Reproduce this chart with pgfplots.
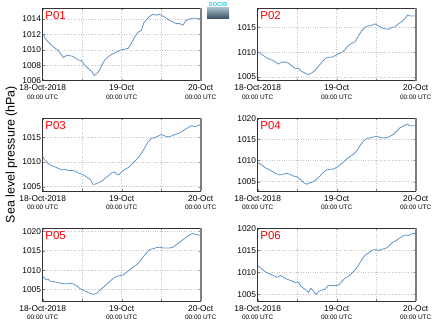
\documentclass[border=0pt]{standalone}
\usepackage{fontspec}
\setmainfont{Liberation Sans}
\usepackage{pgfplots}
\pgfplotsset{compat=1.18}
\definecolor{lineblue}{RGB}{100,150,200}
\newcommand\xl[1]{#1\\[-0.5pt]{\fontsize{6.5}{7}\selectfont 00:00 UTC}}
\newcommand\plab[1]{\node[anchor=north west, inner sep=0pt, text=red, font=\fontsize{11.5}{12}\selectfont] at (rel axis cs:0,1) [xshift=2.5bp, yshift=-3.3bp] {#1};}
\pgfplotsset{
 panel/.style={
  scale only axis, width=158bp, height=72.5bp, xmin=0, xmax=48,
  anchor=south west,
  xtick={0,12,24,36,48},
  xticklabels={{\xl{18-Oct-2018}},{},{\xl{19-Oct}},{},{\xl{20-Oct}}},
  grid=major, grid style={dotted, gray!45, line width=0.5pt},
  tick align=inside, major tick length=2bp, tick style={gray, line width=0.4pt},
  axis line style={black!80, line width=0.5pt},
  ticklabel style={font=\fontsize{8.4}{9}\selectfont},
  xticklabel style={align=center, inner sep=1.5pt, yshift=-2.5bp},
  yticklabel style={inner sep=1.5pt},
  /pgf/number format/assume math mode=true,
  /pgf/number format/1000 sep={},
  after end axis/.code={\draw[gray, line width=1.6bp] (rel axis cs:1,0) -- (rel axis cs:1,1);},
 },
 series/.style={lineblue, line width=0.8bp, no marks},
}
\begin{document}
\begin{tikzpicture}
\useasboundingbox (0,0) rectangle (435bp,327bp);
% P01
\begin{axis}[panel, at={(42.7bp,246.3bp)}, ymin=1006, ymax=1015.4, ytick={1006,1008,1010,1012,1014}]
\addplot[series] coordinates {
(0,1012.17) (0.7,1011.5) (1.7,1011.0) (3.2,1010.4) (4.75,1009.9) (6.3,1009.0) (7.3,1009.3) (8.8,1009.2) (9.8,1009.0) (10.8,1008.7) (11.8,1008.6) (12.8,1008.0) (13.8,1007.6) (14.9,1007.2) (15.6,1006.7) (16.4,1006.9) (17.2,1007.3) (17.9,1008.0) (18.9,1008.7) (19.9,1009.1) (20.9,1009.4) (21.9,1009.6) (22.9,1009.8) (23.9,1010.0) (25.0,1010.1) (26.0,1010.2) (27.0,1010.9) (28.0,1011.7) (29.0,1012.3) (30.0,1012.5) (30.7,1013.5) (31.5,1013.9) (32.5,1014.35) (33.5,1014.6) (34.6,1014.5) (35.6,1014.6) (36.6,1014.35) (37.6,1014.1) (38.6,1013.8) (39.6,1013.6) (40.6,1013.4) (41.6,1013.4) (42.6,1013.2) (43.5,1013.8) (44.7,1014.0) (45.7,1014.1) (46.7,1014.1) (47.7,1014.0) (48,1013.95)
};
\plab{P01}
\end{axis}
% P02
\begin{axis}[panel, at={(257.7bp,246.3bp)}, ymin=1004.26, ymax=1018.86, ytick={1005,1010,1015}]
\addplot[series] coordinates {
(0,1010.13) (1.2,1009.6) (2.2,1009.1) (3.2,1008.7) (4.8,1008.3) (6.3,1007.6) (7.3,1008.0) (8.3,1008.0) (9.3,1007.8) (10.3,1007.3) (11.3,1006.8) (12.4,1006.7) (13.4,1006.1) (14.4,1005.8) (15.4,1005.5) (16.4,1005.8) (17.4,1006.3) (18.4,1007.1) (19.4,1007.9) (20.5,1008.7) (21.5,1009.0) (22.5,1009.0) (23.5,1009.3) (24.5,1009.7) (25.5,1009.9) (26.5,1010.5) (27.5,1011.3) (28.6,1011.8) (29.6,1012.1) (30.6,1013.3) (31.6,1014.3) (32.6,1015.0) (33.6,1015.3) (34.6,1015.4) (35.6,1015.7) (36.7,1015.3) (37.7,1014.9) (38.7,1014.7) (39.7,1014.6) (40.7,1015.0) (41.7,1015.1) (42.7,1015.7) (43.7,1016.1) (44.8,1016.8) (45.5,1017.5) (46.3,1017.3) (48,1017.3)
};
\plab{P02}
\end{axis}
% P03
\begin{axis}[panel, at={(42.7bp,136bp)}, ymin=1004.13, ymax=1018.85, ytick={1005,1010,1015}]
\addplot[series] coordinates {
(0,1011.1) (0.7,1010.4) (1.7,1009.7) (2.7,1009.3) (4.2,1008.9) (5.8,1008.4) (6.8,1008.5) (7.8,1008.3) (8.8,1008.3) (9.8,1008.2) (10.8,1007.8) (11.8,1007.6) (12.8,1007.2) (13.8,1006.8) (14.6,1006.35) (15.2,1005.5) (15.9,1005.5) (16.9,1005.8) (17.9,1006.1) (18.9,1006.7) (19.9,1007.2) (20.9,1007.8) (21.8,1008.0) (22.4,1007.6) (23.1,1007.4) (23.9,1008.0) (25.0,1008.5) (26.0,1008.9) (27.0,1009.5) (28.0,1010.2) (29.0,1010.9) (30.0,1011.8) (31.0,1012.9) (32.0,1014.1) (33.0,1014.8) (34.1,1015.0) (35.1,1015.3) (36.1,1015.6) (37.1,1015.3) (38.1,1015.1) (39.1,1015.3) (40.1,1015.6) (41.1,1015.8) (42.1,1016.1) (43.1,1016.6) (44.2,1017.0) (45.2,1017.4) (46.2,1017.2) (47.2,1017.4) (48,1017.6)
};
\plab{P03}
\end{axis}
% P04
\begin{axis}[panel, at={(257.7bp,136bp)}, ymin=1002.8, ymax=1020, ytick={1005,1010,1015,1020}]
\addplot[series] coordinates {
(0,1009.6) (1.2,1009.0) (2.2,1008.35) (3.7,1007.8) (5.3,1007.0) (6.8,1006.6) (7.8,1006.8) (8.8,1007.0) (9.8,1006.75) (10.8,1006.35) (11.8,1006.2) (12.9,1005.6) (13.9,1004.8) (14.9,1004.4) (15.9,1004.75) (16.9,1005.0) (17.9,1005.6) (18.9,1006.35) (19.9,1007.15) (20.9,1007.8) (22.0,1007.95) (23.0,1008.0) (24.0,1008.4) (25.0,1009.0) (26.0,1009.6) (27.0,1010.4) (28.1,1011.0) (29.1,1011.5) (30.1,1012.3) (31.1,1013.6) (32.1,1014.6) (33.1,1015.2) (34.1,1015.4) (35.1,1015.6) (36.2,1015.8) (37.2,1015.5) (38.2,1015.4) (39.2,1015.4) (40.2,1015.8) (41.2,1016.2) (42.2,1017.0) (43.2,1017.8) (44.3,1018.2) (45.3,1018.7) (46.1,1018.3) (48,1018.3)
};
\plab{P04}
\end{axis}
% P05
\begin{axis}[panel, at={(42.7bp,26bp)}, ymin=1002.1, ymax=1020.7, ytick={1005,1010,1015,1020}]
\addplot[series] coordinates {
(0,1008.4) (0.7,1007.8) (1.2,1007.5) (1.7,1007.7) (2.2,1007.2) (3.2,1007.1) (4.2,1006.9) (5.8,1006.6) (7.3,1006.5) (8.3,1006.6) (9.3,1006.5) (10.3,1006.0) (11.3,1005.3) (12.3,1004.9) (13.3,1004.5) (14.3,1004.05) (15.4,1003.8) (16.4,1004.05) (17.4,1004.9) (18.4,1005.6) (19.4,1006.4) (20.4,1007.1) (21.4,1007.9) (22.4,1008.4) (23.4,1008.6) (24.5,1008.8) (25.5,1009.5) (26.5,1010.1) (27.5,1010.8) (28.5,1011.4) (29.5,1012.2) (30.5,1013.4) (31.5,1014.4) (32.5,1015.3) (33.5,1015.5) (34.6,1015.8) (35.6,1015.9) (36.6,1015.7) (37.6,1015.7) (38.6,1015.7) (39.6,1015.9) (40.6,1016.55) (41.6,1017.2) (42.6,1017.8) (43.7,1018.5) (44.7,1019.1) (45.5,1019.4) (46.7,1019.1) (48,1019.0)
};
\plab{P05}
\end{axis}
% P06
\begin{axis}[panel, at={(257.7bp,26bp)}, ymin=1003.5, ymax=1020, ytick={1005,1010,1015,1020}]
\addplot[series] coordinates {
(0,1011.6) (1.2,1010.8) (2.2,1010.2) (3.2,1009.8) (4.8,1009.3) (5.8,1008.9) (6.3,1009.05) (7.0,1009.3) (7.8,1008.9) (8.8,1008.5) (10.3,1008.1) (11.3,1007.7) (12.4,1007.8) (13.1,1006.9) (13.9,1006.4) (14.7,1006.0) (15.4,1005.5) (16.1,1006.4) (16.9,1005.8) (17.7,1005.0) (18.4,1005.6) (19.4,1006.0) (20.5,1006.2) (21.5,1007.1) (22.5,1007.0) (23.5,1007.0) (24.5,1007.1) (25.5,1007.9) (26.5,1008.7) (27.5,1009.05) (28.6,1009.8) (29.6,1010.6) (30.6,1011.6) (31.6,1012.9) (32.6,1013.9) (33.6,1014.4) (34.6,1014.95) (35.6,1015.2) (36.7,1015.0) (37.7,1015.3) (38.7,1015.4) (39.7,1015.9) (40.7,1016.7) (41.7,1017.1) (42.7,1017.6) (43.7,1018.1) (44.8,1018.5) (45.8,1018.4) (46.8,1018.8) (48,1018.9)
};
\plab{P06}
\end{axis}
% y label
\node[rotate=90, anchor=base, font=\fontsize{12.5}{13}\selectfont] at (14.5bp,172.5bp) {Sea level pressure (hPa)};
% logo
\shade[top color={rgb,255:red,160;green,185;blue,200}, bottom color={rgb,255:red,55;green,75;blue,90}] (207bp,308bp) rectangle (229bp,319bp);
\node[text={rgb,255:red,60;green,200;blue,220}, font=\fontsize{6}{6}\selectfont\bfseries, inner sep=0pt, anchor=north] at (218bp,325bp) {SOCIB};
\end{tikzpicture}
\end{document}
